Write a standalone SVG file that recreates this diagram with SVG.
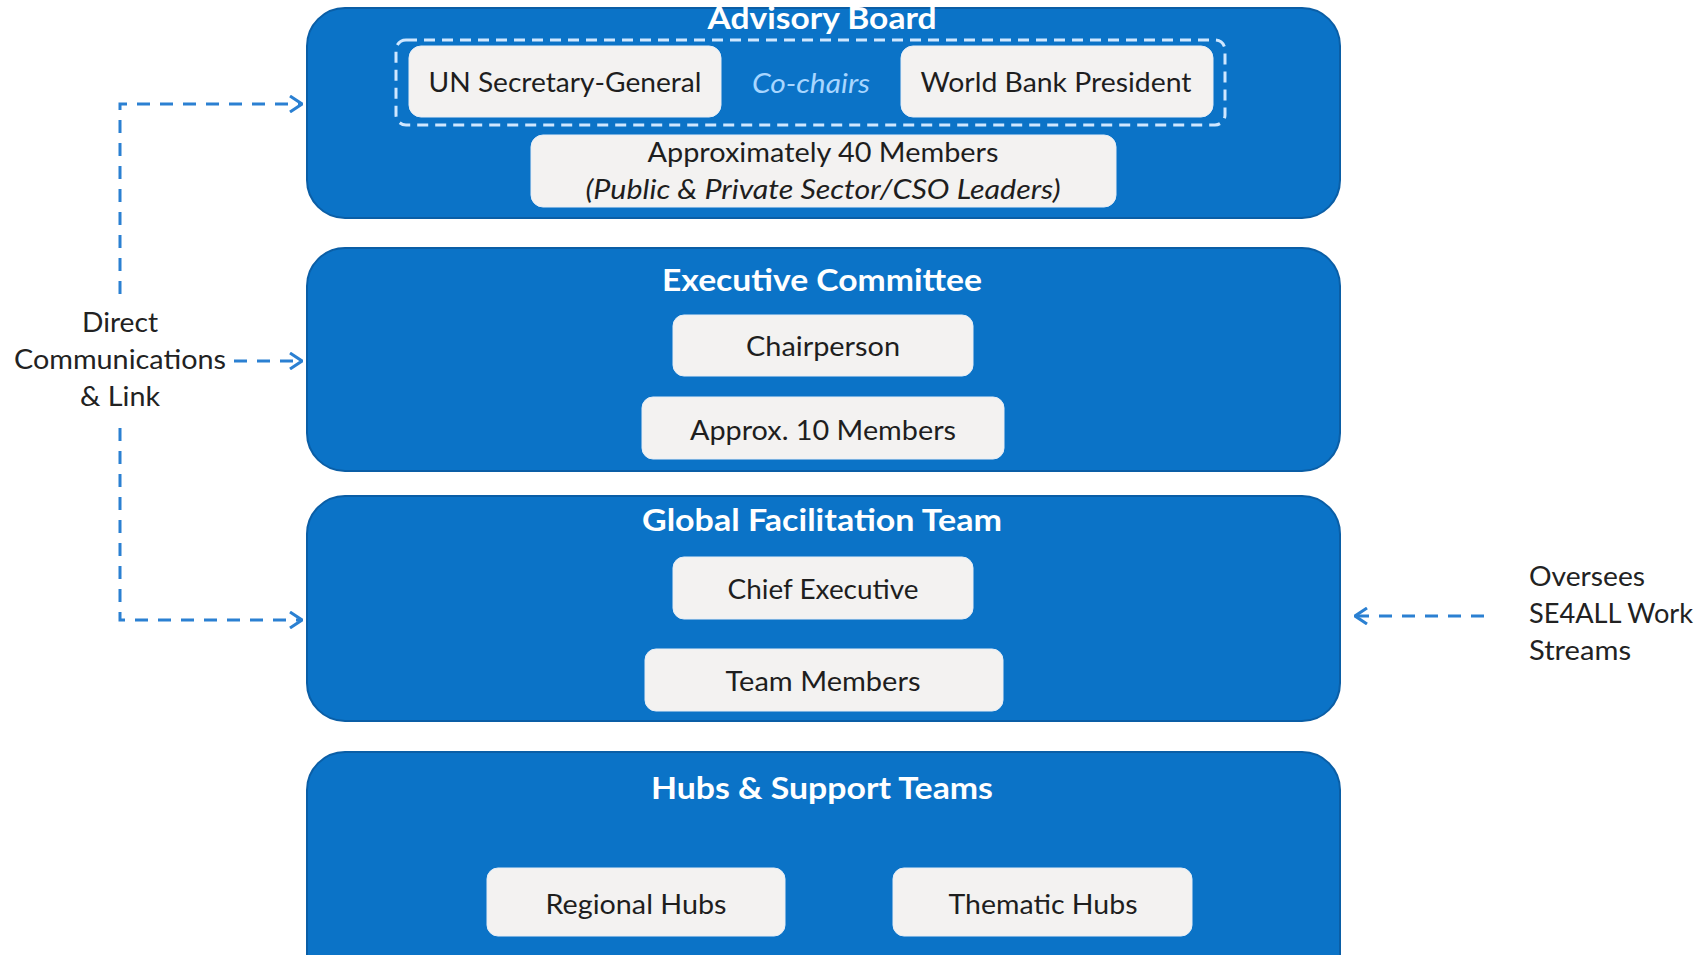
<svg xmlns="http://www.w3.org/2000/svg" width="1707" height="955" viewBox="0 0 1707 955">
<defs>
<style>
.panel{fill:#0b73c7;stroke:#0a5ea6;stroke-width:2}
.item{fill:#f3f2f1;stroke:#e6eef7;stroke-width:1}
.title{font-family:Lato,"Liberation Sans",sans-serif;font-weight:bold;font-size:31px;fill:#ffffff;text-anchor:middle}
.txt{font-family:Lato,"Liberation Sans",sans-serif;font-size:27px;fill:#1e1e1e;text-anchor:middle}
.lbl{font-family:Lato,"Liberation Sans",sans-serif;font-size:27px;fill:#222222}
.conn{fill:none;stroke:#2b80d2;stroke-width:3;stroke-dasharray:13 10}
</style>
<marker id="arr" viewBox="0 0 14 18" refX="13" refY="9" markerWidth="14" markerHeight="18" markerUnits="userSpaceOnUse" orient="auto">
<path d="M1,1 L13,9 L1,17" fill="none" stroke="#2b80d2" stroke-width="3"/>
</marker>
</defs>
<rect width="1707" height="955" fill="#ffffff"/>

<g id="advisory-board">
<rect class="panel" x="307" y="8" width="1033" height="210" rx="38"/>
<text class="title" x="822" y="29" textLength="229" lengthAdjust="spacingAndGlyphs">Advisory Board</text>
<rect x="396" y="40" width="829" height="85" rx="10" fill="none" stroke="#cfe7ff" stroke-width="3" stroke-dasharray="11 7"/>
<g id="un-sg">
<rect class="item" x="409" y="46" width="312" height="71" rx="12"/>
<text class="txt" x="565" y="92" textLength="273" lengthAdjust="spacingAndGlyphs">UN Secretary-General</text>
</g>
<text x="811" y="93" font-family="Lato,'Liberation Sans',sans-serif" font-size="27" font-style="italic" fill="#a8d6ff" text-anchor="middle" textLength="118" lengthAdjust="spacingAndGlyphs">Co-chairs</text>
<g id="wb-president">
<rect class="item" x="901" y="46" width="312" height="71" rx="12"/>
<text class="txt" x="1056" y="92" textLength="271" lengthAdjust="spacingAndGlyphs">World Bank President</text>
</g>
<g id="ab-members">
<rect class="item" x="531" y="135" width="585" height="72" rx="12"/>
<text class="txt" x="823" y="162" textLength="351" lengthAdjust="spacingAndGlyphs">Approximately 40 Members</text>
<text class="txt" x="823" y="199" font-style="italic" textLength="475" lengthAdjust="spacingAndGlyphs">(Public &amp; Private Sector/CSO Leaders)</text>
</g>
</g>

<g id="executive-committee">
<rect class="panel" x="307" y="248" width="1033" height="223" rx="38"/>
<text class="title" x="822" y="291" textLength="320" lengthAdjust="spacingAndGlyphs">Executive Committee</text>
<g id="chairperson">
<rect class="item" x="673" y="315" width="300" height="61" rx="11"/>
<text class="txt" x="823" y="356" textLength="154" lengthAdjust="spacingAndGlyphs">Chairperson</text>
</g>
<g id="ec-members">
<rect class="item" x="642" y="397" width="362" height="62" rx="11"/>
<text class="txt" x="823" y="440" textLength="266" lengthAdjust="spacingAndGlyphs">Approx. 10 Members</text>
</g>
</g>

<g id="global-facilitation-team">
<rect class="panel" x="307" y="496" width="1033" height="225" rx="38"/>
<text class="title" x="822" y="531" textLength="360" lengthAdjust="spacingAndGlyphs">Global Facilitation Team</text>
<g id="chief-executive">
<rect class="item" x="673" y="557" width="300" height="62" rx="11"/>
<text class="txt" x="823" y="599" textLength="191" lengthAdjust="spacingAndGlyphs">Chief Executive</text>
</g>
<g id="team-members">
<rect class="item" x="645" y="649" width="358" height="62" rx="11"/>
<text class="txt" x="823" y="691" textLength="195" lengthAdjust="spacingAndGlyphs">Team Members</text>
</g>
</g>

<g id="hubs-support-teams">
<rect class="panel" x="307" y="752" width="1033" height="240" rx="38"/>
<text class="title" x="822" y="799" textLength="342" lengthAdjust="spacingAndGlyphs">Hubs &amp; Support Teams</text>
<g id="regional-hubs">
<rect class="item" x="487" y="868" width="298" height="68" rx="11"/>
<text class="txt" x="636" y="914" textLength="181" lengthAdjust="spacingAndGlyphs">Regional Hubs</text>
</g>
<g id="thematic-hubs">
<rect class="item" x="893" y="868" width="299" height="68" rx="11"/>
<text class="txt" x="1043" y="914" textLength="189" lengthAdjust="spacingAndGlyphs">Thematic Hubs</text>
</g>
</g>

<g id="direct-communications-label">
<text class="lbl" x="120" y="332" text-anchor="middle" textLength="76" lengthAdjust="spacingAndGlyphs">Direct</text>
<text class="lbl" x="120" y="369" text-anchor="middle" textLength="212" lengthAdjust="spacingAndGlyphs">Communications</text>
<text class="lbl" x="120" y="406" text-anchor="middle" textLength="80" lengthAdjust="spacingAndGlyphs">&amp; Link</text>
</g>

<g id="oversees-label">
<text class="lbl" x="1529" y="586" textLength="116" lengthAdjust="spacingAndGlyphs">Oversees</text>
<text class="lbl" x="1529" y="623" textLength="164" lengthAdjust="spacingAndGlyphs">SE4ALL Work</text>
<text class="lbl" x="1529" y="660" textLength="102" lengthAdjust="spacingAndGlyphs">Streams</text>
</g>

<g id="connectors">
<path class="conn" d="M120,294 L120,104 L302,104" marker-end="url(#arr)"/>
<path class="conn" d="M234,361 L302,361" marker-end="url(#arr)"/>
<path class="conn" d="M120,428 L120,620 L302,620" marker-end="url(#arr)"/>
<path class="conn" d="M1484,616 L1355,616" marker-end="url(#arr)"/>
</g>
</svg>
